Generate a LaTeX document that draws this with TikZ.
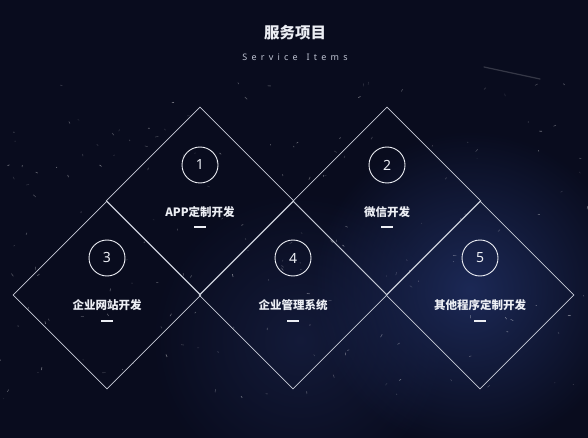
\documentclass[tikz,border=0pt]{standalone}
\usepackage{fontspec}
\setmainfont{Noto Sans}
\newfontfamily\cjk{Noto Sans CJK SC}
\usetikzlibrary{shapes.geometric,fadings}
\tikzfading[name=softglow, inner color=transparent!0, outer color=transparent!100]
\definecolor{bgnavy}{RGB}{9,12,30}
\definecolor{glowblue}{RGB}{30,44,92}
\definecolor{glowmid}{RGB}{22,30,64}
\definecolor{lineclr}{RGB}{200,204,216}
\definecolor{txtclr}{RGB}{236,238,244}
\definecolor{subclr}{RGB}{190,195,210}
\tikzset{
  tile/.style={diamond, draw=lineclr, line width=0.8pt, minimum width=188pt, minimum height=188pt, inner sep=0pt, aspect=1},
  numcircle/.style={circle, draw=txtclr, line width=0.9pt, minimum size=36pt, inner sep=0pt, text=txtclr, font=\fontsize{14}{14}\selectfont},
  itemlabel/.style={text=txtclr, font=\cjk\bfseries\fontsize{11.5}{13}\selectfont, inner sep=0pt},
  dashmark/.style={fill=txtclr, minimum width=12pt, minimum height=2pt, inner sep=0pt},
}
\begin{document}
\begin{tikzpicture}[x=1pt,y=-1pt]
\fill[bgnavy] (0,0) rectangle (588,438);
\useasboundingbox (0,0) rectangle (588,438);
% subtle glow
\fill[glowmid, path fading=softglow, opacity=0.8] (300,340) circle (150);
\fill[glowblue, path fading=softglow, opacity=0.9] (470,290) circle (160);
% light streak
\draw[white, opacity=0.18, line width=1.2pt, line cap=round] (484,67) -- (540,79);
% speckles
\pgfmathsetseed{11}
\foreach \i in {1,...,170}{
  \pgfmathsetmacro{\px}{rnd*588}
  \pgfmathsetmacro{\py}{80+rnd*320}
  \pgfmathsetmacro{\ang}{rnd*360}
  \pgfmathsetmacro{\len}{0.6+rnd*2.6}
  \pgfmathsetmacro{\op}{0.12+rnd*0.35}
  \draw[white, opacity=\op, line width=0.6pt, line cap=round] (\px,\py) -- ++(\ang:\len);
}
% title
\node[text=txtclr, font=\cjk\bfseries\fontsize{15.5}{17}\selectfont] (title) at (295,33) {服务项目};
\node[text=subclr, font=\fontsize{9}{10}\selectfont] (subtitle) at (295,57) {S\hspace{4.2pt}e\hspace{4.2pt}r\hspace{4.2pt}v\hspace{4.2pt}i\hspace{4.2pt}c\hspace{4.2pt}e\hspace{9pt}I\hspace{4.2pt}t\hspace{4.2pt}e\hspace{4.2pt}m\hspace{4.2pt}s};
% diamonds
\node[tile] (d1) at (200,201) {};
\node[tile] (d2) at (387,201) {};
\node[tile] (d3) at (107,295) {};
\node[tile] (d4) at (293,295) {};
\node[tile] (d5) at (480,295) {};
% contents
\node[numcircle] (c1) at (200,165) {1};
\node[itemlabel] (l1) at (200,212) {APP定制开发};
\node[dashmark] (m1) at (200,227) {};
\node[numcircle] (c2) at (387,165) {2};
\node[itemlabel] (l2) at (387,212) {微信开发};
\node[dashmark] (m2) at (387,227) {};
\node[numcircle] (c3) at (107,258) {3};
\node[itemlabel] (l3) at (107,305) {企业网站开发};
\node[dashmark] (m3) at (107,321) {};
\node[numcircle] (c4) at (293,258) {4};
\node[itemlabel] (l4) at (293,305) {企业管理系统};
\node[dashmark] (m4) at (293,321) {};
\node[numcircle] (c5) at (480,258) {5};
\node[itemlabel] (l5) at (480,305) {其他程序定制开发};
\node[dashmark] (m5) at (480,321) {};
\end{tikzpicture}
\end{document}
